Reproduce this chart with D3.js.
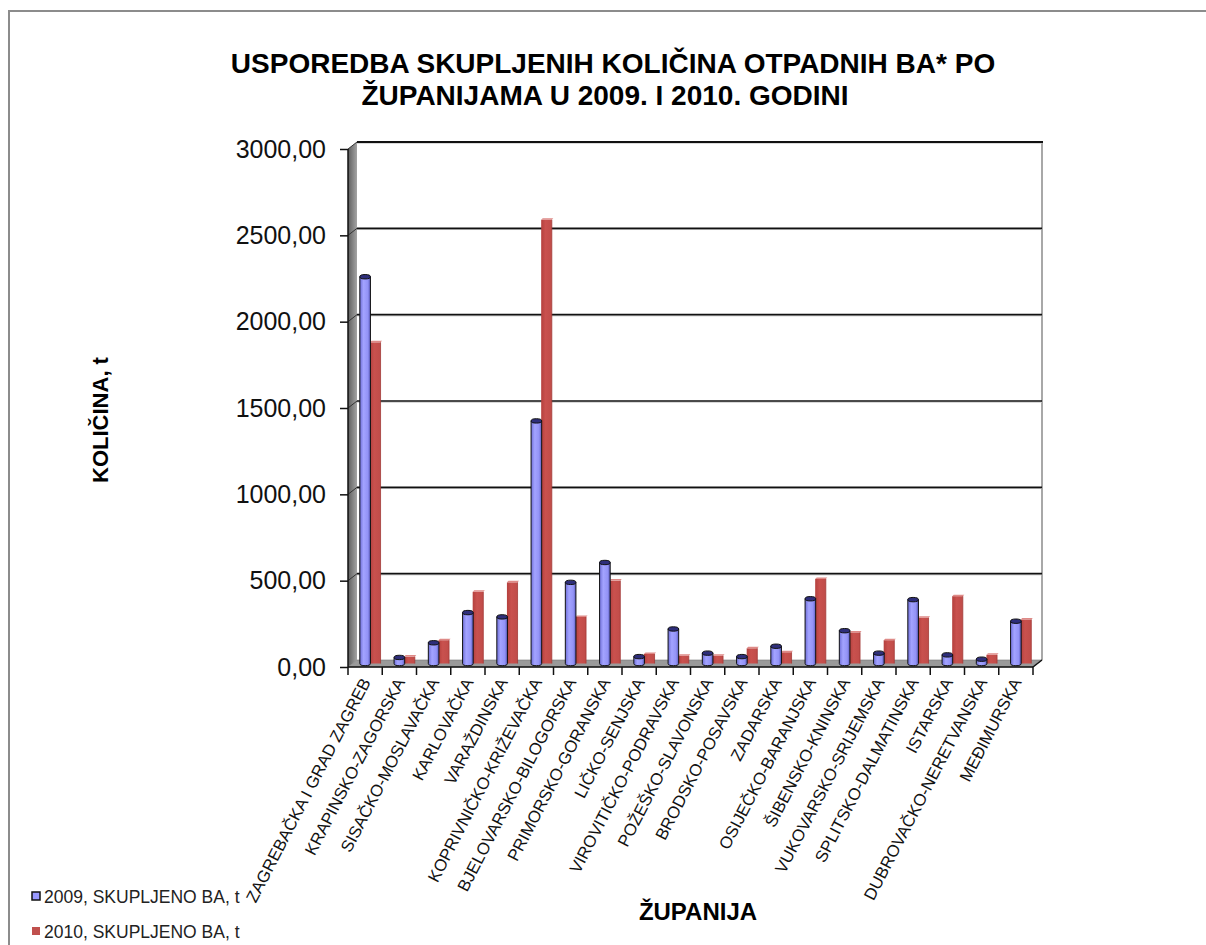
<!DOCTYPE html>
<html>
<head>
<meta charset="utf-8">
<script src="https://cdn.jsdelivr.net/npm/d3@7"></script>
<style>
  html, body { margin: 0; padding: 0; background: #fff; }
  svg { display: block; font-family: "Liberation Sans", Arial, sans-serif; }
</style>
</head>
<body>
<svg id="chart" width="1206" height="945"></svg>
<script>
const counties = [
  "ZAGREBAČKA I GRAD ZAGREB", "KRAPINSKO-ZAGORSKA", "SISAČKO-MOSLAVAČKA", "KARLOVAČKA",
  "VARAŽDINSKA", "KOPRIVNIČKO-KRIŽEVAČKA", "BJELOVARSKO-BILOGORSKA", "PRIMORSKO-GORANSKA",
  "LIČKO-SENJSKA", "VIROVITIČKO-PODRAVSKA", "POŽEŠKO-SLAVONSKA", "BRODSKO-POSAVSKA",
  "ZADARSKA", "OSIJEČKO-BARANJSKA", "ŠIBENSKO-KNINSKA", "VUKOVARSKO-SRIJEMSKA",
  "SPLITSKO-DALMATINSKA", "ISTARSKA", "DUBROVAČKO-NERETVANSKA", "MEĐIMURSKA"
];
const values2009 = [2240, 35, 120, 295, 270, 1405, 470, 585, 40, 200, 60, 40, 100, 375, 190, 60, 370, 50, 25, 245];
const values2010 = [1860, 40, 135, 415, 470, 2570, 270, 480, 55, 45, 45, 88, 65, 490, 180, 135, 265, 390, 50, 255];
const yTicks = [0, 500, 1000, 1500, 2000, 2500, 3000];
const seriesNames = ["2009, SKUPLJENO BA, t", "2010, SKUPLJENO BA, t"];
const titleLines = ["USPOREDBA SKUPLJENIH KOLIČINA OTPADNIH BA* PO", "ŽUPANIJAMA U 2009. I 2010. GODINI"];
const yTitle = "KOLIČINA, t";
const xTitle = "ŽUPANIJA";

const svg = d3.select("#chart");
const fmt = v => d3.format(".2f")(v).replace(".", ",");

// geometry
const X0 = 348, X1 = 1033, Y0 = 667, YT = 149;
const DX = 9, DY = -7;

const x = d3.scaleBand().domain(counties).range([X0, X1]).padding(0);
const inner = d3.scaleBand().domain(["2009", "2010"])
  .range([x.bandwidth() * 0.345, x.bandwidth() * 0.965]).padding(0);
const y = d3.scaleLinear().domain([0, 3000]).range([Y0, YT]);

const defs = svg.append("defs");
const wallGrad = defs.append("linearGradient").attr("id", "wall").attr("x1", "0").attr("x2", "1").attr("y1", "0").attr("y2", "0");
wallGrad.append("stop").attr("offset", "0").attr("stop-color", "#5e5e5e");
wallGrad.append("stop").attr("offset", "1").attr("stop-color", "#a4a4a4");
const blueGrad = defs.append("linearGradient").attr("id", "blueG").attr("x1", "0").attr("x2", "1").attr("y1", "0").attr("y2", "0");
blueGrad.append("stop").attr("offset", "0").attr("stop-color", "#6f6fd8");
blueGrad.append("stop").attr("offset", "0.35").attr("stop-color", "#a3a3ff");
blueGrad.append("stop").attr("offset", "0.75").attr("stop-color", "#9393f6");
blueGrad.append("stop").attr("offset", "1").attr("stop-color", "#5c5cc0");
const redGrad = defs.append("linearGradient").attr("id", "redG").attr("x1", "0").attr("x2", "1").attr("y1", "0").attr("y2", "0");
redGrad.append("stop").attr("offset", "0").attr("stop-color", "#b4403d");
redGrad.append("stop").attr("offset", "0.4").attr("stop-color", "#c9514e");
redGrad.append("stop").attr("offset", "1").attr("stop-color", "#c04c49");

// outer frame
svg.append("rect").attr("x", 9).attr("y", 11).attr("width", 1300).attr("height", 1000)
  .attr("fill", "#fff").attr("stroke", "#8c8c8c").attr("stroke-width", 2);

// back wall
svg.append("rect").attr("x", X0 + DX).attr("y", YT + DY).attr("width", X1 - X0).attr("height", Y0 - YT)
  .attr("fill", "#fff");
svg.append("line").attr("x1", X1 + DX).attr("x2", X1 + DX).attr("y1", YT + DY).attr("y2", Y0 + DY)
  .attr("stroke", "#a8a8a8").attr("stroke-width", 2);

// gridlines on back wall + side wall
const gridTicks = yTicks.filter(t => t > 0);
svg.append("g").selectAll("line").data(gridTicks).join("line")
  .attr("x1", X0 + DX).attr("x2", X1 + DX)
  .attr("y1", d => y(d) + DY + 1.2).attr("y2", d => y(d) + DY + 1.2)
  .attr("stroke", "#c8c8c8").attr("stroke-width", 1);
svg.append("g").selectAll("line").data(gridTicks).join("line")
  .attr("x1", X0 + DX).attr("x2", d => d === 3000 ? X1 + DX + 1 : X1 + DX)
  .attr("y1", d => y(d) + DY).attr("y2", d => y(d) + DY)
  .attr("stroke", "#111").attr("stroke-width", d => d === 3000 ? 2 : 1.6);

// left wall
svg.append("polygon")
  .attr("points", [[X0, YT], [X0 + DX, YT + DY], [X0 + DX, Y0 + DY], [X0, Y0]].map(p => p.join(",")).join(" "))
  .attr("fill", "url(#wall)");
svg.append("g").selectAll("line").data(gridTicks).join("line")
  .attr("x1", X0).attr("x2", X0 + DX)
  .attr("y1", d => y(d)).attr("y2", d => y(d) + DY)
  .attr("stroke", "#333").attr("stroke-width", 1);

// floor
svg.append("polygon")
  .attr("points", [[X0, Y0], [X1, Y0], [X1 + DX, Y0 + DY], [X0 + DX, Y0 + DY]].map(p => p.join(",")).join(" "))
  .attr("fill", "#9a9a9a").attr("stroke", "#777").attr("stroke-width", 0.6);

// bars
const baseY = Y0 + DY / 2;
const bw = inner.bandwidth();
const gBars = svg.append("g");
counties.forEach((c, i) => {
  const v1 = values2009[i], v2 = values2010[i];
  const rx = x(c) + inner("2010") - 0.5;
  const ry = y(v2) + DY / 2;
  const rg = gBars.append("g");
  rg.append("rect").attr("x", rx).attr("y", ry).attr("width", bw).attr("height", baseY - ry)
    .attr("fill", "url(#redG)");
  rg.append("polygon")
    .attr("points", [[rx, ry], [rx + bw, ry], [rx + bw + 1.5, ry - 1.5], [rx + 1.5, ry - 1.5]].map(p => p.join(",")).join(" "))
    .attr("fill", "#de8a87");
  rg.append("line").attr("x1", rx + bw).attr("x2", rx + bw).attr("y1", ry).attr("y2", baseY)
    .attr("stroke", "#a23a37").attr("stroke-width", 0.8);

  const bx = x(c) + inner("2009");
  const by = y(v1) + DY / 2;
  const bg = gBars.append("g");
  const ery = 2.2;
  bg.append("path")
    .attr("d", `M${bx},${by} L${bx},${baseY} A${bw / 2},${ery} 0 0 0 ${bx + bw},${baseY} L${bx + bw},${by} Z`)
    .attr("fill", "url(#blueG)").attr("stroke", "#111").attr("stroke-width", 1);
  bg.append("ellipse").attr("cx", bx + bw / 2).attr("cy", by).attr("rx", bw / 2).attr("ry", ery)
    .attr("fill", "#2e2e7a").attr("stroke", "#111").attr("stroke-width", 1);
});

// y axis (front)
svg.append("line").attr("x1", X0).attr("x2", X0).attr("y1", YT).attr("y2", Y0)
  .attr("stroke", "#111").attr("stroke-width", 1.5);
const yAxis = d3.axisLeft(y).tickValues(yTicks).tickFormat(fmt).tickSize(8).tickPadding(14);
const gy = svg.append("g").attr("transform", `translate(${X0},0)`).call(yAxis);
gy.select(".domain").remove();
gy.selectAll(".tick line").attr("stroke", "#111").attr("stroke-width", 1.5);
gy.selectAll(".tick text").attr("font-size", 25).attr("fill", "#111")
  .attr("font-family", "Liberation Sans, Arial, sans-serif");

// x axis (front)
svg.append("line").attr("x1", X0).attr("x2", X1).attr("y1", Y0).attr("y2", Y0)
  .attr("stroke", "#111").attr("stroke-width", 1.5);
svg.append("line").attr("x1", X1).attr("x2", X1 + DX).attr("y1", Y0).attr("y2", Y0 + DY)
  .attr("stroke", "#111").attr("stroke-width", 1.5);
const boundaries = counties.map(c => x(c)).concat([X1]);
svg.append("g").selectAll("line").data(boundaries).join("line")
  .attr("x1", d => d).attr("x2", d => d).attr("y1", Y0).attr("y2", Y0 + 8)
  .attr("stroke", "#111").attr("stroke-width", 1.5);

svg.append("g").selectAll("text").data(counties).join("text")
  .attr("transform", d => `translate(${x(d) + x.bandwidth() / 2 + 6},${Y0 + 15}) rotate(-62.5)`)
  .attr("text-anchor", "end")
  .attr("font-size", 16.8)
  .attr("fill", "#111")
  .text(d => d);

// titles
const titleX = [613, 605];
svg.append("g").selectAll("text").data(titleLines).join("text")
  .attr("x", (d, i) => titleX[i]).attr("y", (d, i) => 73 + i * 32)
  .attr("text-anchor", "middle").attr("font-weight", "bold").attr("font-size", 28).attr("fill", "#000")
  .text(d => d);

svg.append("text").attr("transform", "translate(108,420) rotate(-90)")
  .attr("text-anchor", "middle").attr("font-weight", "bold").attr("font-size", 22).attr("fill", "#000")
  .text(yTitle);

svg.append("text").attr("x", 698).attr("y", 920)
  .attr("text-anchor", "middle").attr("font-weight", "bold").attr("font-size", 24).attr("fill", "#000")
  .text(xTitle);

// legend
const leg = svg.append("g");
const legY = [897, 932];
leg.append("rect").attr("x", 32).attr("y", legY[0] - 5).attr("width", 8).attr("height", 8)
  .attr("fill", "#9999ff").attr("stroke", "#111").attr("stroke-width", 1.5);
leg.append("rect").attr("x", 32).attr("y", legY[1] - 5).attr("width", 8).attr("height", 8)
  .attr("fill", "#c0504d");
leg.selectAll("text").data(seriesNames).join("text")
  .attr("x", 44).attr("y", (d, i) => legY[i] + 6)
  .attr("font-size", 17.5).attr("fill", "#222")
  .text(d => d);
</script>
</body>
</html>
